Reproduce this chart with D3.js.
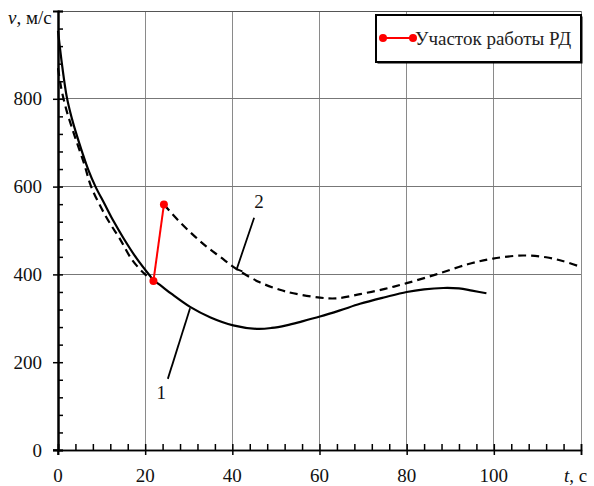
<!DOCTYPE html>
<html>
<head>
<meta charset="utf-8">
<script src="https://cdn.jsdelivr.net/npm/d3@7"></script>
<style>
  html, body { margin: 0; padding: 0; background: #fff; }
  svg { display: block; }
  svg text { font-family: "Liberation Serif", "Times New Roman", Times, serif; }
</style>
</head>
<body>
<svg id="chart" width="594" height="486"></svg>
<script>
// Trajectory 1: velocity v (m/s) vs time t (s), no engine burn
const solidT = [0, 1, 2, 3, 4, 5.6, 7, 8.6, 10.6, 12.7, 15, 18, 21, 22, 23.4, 26, 30.3, 35, 40.2, 45.6, 49, 52.4, 56, 60.1, 64.7, 69.3, 75, 80, 84, 88.4, 92, 95, 98.3];
const solidV = [955, 872, 805, 762, 727, 677, 637, 600, 562, 522, 483, 437, 398, 386, 376, 356, 326, 302, 284, 276, 278, 284, 293, 304, 318, 333, 348, 360, 366, 369, 368, 363, 357];

// Trajectory 2 before the engine burn
const preT = [0, 0.5, 1, 2, 3, 4, 6, 7.6, 10, 12, 14.2, 17, 20, 21.9];
const preV = [870, 838, 812, 772, 740, 710, 652, 600, 550, 515, 481, 433, 400, 385];

// Trajectory 2 after the engine burn
const postT = [24.3, 27.5, 31, 34, 37.2, 41, 46.3, 50.9, 54, 60.1, 64, 69.3, 75, 80, 86.8, 94, 99.8, 106.7, 112, 116, 120];
const postV = [559, 524, 490, 464, 440, 412, 382, 365, 357, 347, 345.5, 355, 367, 380, 400, 423, 436, 443, 439, 430, 417];

// Engine burn segment (РД)
const burnT = [21.9, 24.3];
const burnV = [385, 559];

const xMajor = [0, 20, 40, 60, 80, 100, 120];
const xLabels = ["0", "20", "40", "60", "80", "100", ""];
const yMajor = [0, 200, 400, 600, 800, 1000];
const yLabels = ["0", "200", "400", "600", "800", ""];
const yGrid = [400, 600, 800, 1000];
const legendText = "Участок работы РД";

// Curve annotations: label text, label position, leader polyline (data units)
const noteText = ["1", "2"];
const noteAt = [[23.7, 116], [46.1, 551]];
const noteLeader = [
  [[25.2, 162], [30.3, 323]],
  [[45.0, 529], [41.0, 412], [42.3, 407]]
];

const svg = d3.select("#chart");
const x = d3.scaleLinear().domain([0, 120]).range([58, 581]);
const y = d3.scaleLinear().domain([0, 1000]).range([450, 11]);

const zip = (ts, vs) => ts.map((t, i) => [t, vs[i]]);

// grid
const grid = svg.append("g");
grid.selectAll("line.v").data(xMajor.slice(1)).join("line")
  .attr("x1", d => x(d)).attr("x2", d => x(d))
  .attr("y1", y(1000)).attr("y2", y(0))
  .attr("stroke", "#8a8a8a").attr("stroke-width", 1).attr("shape-rendering", "crispEdges");
grid.selectAll("line.h").data(yGrid).join("line")
  .attr("x1", x(0)).attr("x2", x(120))
  .attr("y1", d => y(d)).attr("y2", d => y(d))
  .attr("stroke", d => d === 1000 ? "#555" : "#777").attr("stroke-width", 1).attr("shape-rendering", "crispEdges");

// x axis: minor ticks pointing up, major ticks crossing the axis
const xMinor = d3.range(0, 121, 4);
const gx = svg.append("g").attr("transform", `translate(0,${y(0)})`);
gx.call(d3.axisBottom(x).tickValues(xMinor).tickSize(-6).tickFormat(""));
gx.append("g").call(d3.axisBottom(x).tickValues(xMajor).tickSize(5).tickFormat(""));
gx.selectAll("path.domain").attr("stroke", "#000").attr("stroke-width", 1.5);
gx.selectAll(".tick line").attr("stroke", "#000").attr("stroke-width", 1.5);
gx.append("line").attr("x1", x(0) - 5).attr("x2", x(0)).attr("stroke", "#000").attr("stroke-width", 1.5);
gx.selectAll("text.lbl").data(xMajor).join("text").attr("class", "lbl")
  .attr("x", d => x(d)).attr("y", 32)
  .attr("text-anchor", "middle").attr("font-size", 19).attr("fill", "#111")
  .text((d, i) => xLabels[i]);

// y axis: minor ticks pointing right, major ticks crossing the axis
const yMinor = d3.range(0, 1001, 40);
const gy = svg.append("g").attr("transform", `translate(${x(0)},0)`);
gy.call(d3.axisLeft(y).tickValues(yMinor).tickSize(-5).tickFormat(""));
gy.append("g").call(d3.axisLeft(y).tickValues(yMajor.slice(0, 5)).tickSize(5).tickFormat(""));
gy.selectAll("path.domain").attr("stroke", "#000").attr("stroke-width", 2);
gy.selectAll(".tick line").attr("stroke", "#000").attr("stroke-width", 1.5);
gy.append("line").attr("y1", y(0)).attr("y2", y(0) + 5).attr("stroke", "#000").attr("stroke-width", 1.5);
gy.selectAll("text.lbl").data(yMajor).join("text").attr("class", "lbl")
  .attr("x", -16).attr("y", d => y(d)).attr("dy", "0.35em")
  .attr("text-anchor", "end").attr("font-size", 19).attr("fill", "#111")
  .text((d, i) => yLabels[i]);

// axis titles
const tTitle = svg.append("text").attr("x", 564).attr("y", 482).attr("font-size", 19).attr("fill", "#111");
tTitle.append("tspan").attr("font-style", "italic").text("t");
tTitle.append("tspan").text(", с");
const vTitle = svg.append("text").attr("x", 8).attr("y", 24).attr("font-size", 19).attr("fill", "#111");
vTitle.append("tspan").attr("font-style", "italic").text("v");
vTitle.append("tspan").text(", м/с");

// curves
const line = d3.line().x(d => x(d[0])).y(d => y(d[1])).curve(d3.curveCatmullRom.alpha(0.5));
svg.append("path").datum(zip(solidT, solidV)).attr("d", line)
  .attr("fill", "none").attr("stroke", "#000").attr("stroke-width", 2.2);
svg.append("path").datum(zip(preT, preV)).attr("d", line)
  .attr("fill", "none").attr("stroke", "#000").attr("stroke-width", 2.2).attr("stroke-dasharray", "8,5");
svg.append("path").datum(zip(postT, postV)).attr("d", line)
  .attr("fill", "none").attr("stroke", "#000").attr("stroke-width", 2.2).attr("stroke-dasharray", "8,5");

// engine burn segment
const burn = zip(burnT, burnV);
svg.append("path").datum(burn).attr("d", d3.line().x(d => x(d[0])).y(d => y(d[1])))
  .attr("fill", "none").attr("stroke", "#f00").attr("stroke-width", 2);
svg.selectAll("circle.burn").data(burn).join("circle").attr("class", "burn")
  .attr("cx", d => x(d[0])).attr("cy", d => y(d[1])).attr("r", 4).attr("fill", "#f00");

// annotations
const notes = svg.append("g");
const leader = d3.line().x(d => x(d[0])).y(d => y(d[1]));
noteText.forEach((txt, i) => {
  notes.append("path").attr("d", leader(noteLeader[i]))
    .attr("fill", "none").attr("stroke", "#000").attr("stroke-width", 1.8);
  notes.append("text").attr("x", x(noteAt[i][0])).attr("y", y(noteAt[i][1]))
    .attr("text-anchor", "middle").attr("font-size", 19).attr("fill", "#111").text(txt);
});

// legend box with a thin drop shadow on the right and bottom
const lg = svg.append("g");
lg.append("rect").attr("x", 377.5).attr("y", 16.5).attr("width", 205).attr("height", 47)
  .attr("fill", "#000");
lg.append("rect").attr("x", 376).attr("y", 15).attr("width", 205).attr("height", 47)
  .attr("fill", "#fff").attr("stroke", "#000").attr("stroke-width", 2);
lg.append("line").attr("x1", 383).attr("x2", 413).attr("y1", 38).attr("y2", 38)
  .attr("stroke", "#f00").attr("stroke-width", 2);
lg.selectAll("circle").data([383, 413]).join("circle")
  .attr("cx", d => d).attr("cy", 38).attr("r", 4).attr("fill", "#f00");
lg.append("text").attr("x", 415).attr("y", 45).attr("font-size", 19).attr("fill", "#222").text(legendText);
</script>
</body>
</html>
